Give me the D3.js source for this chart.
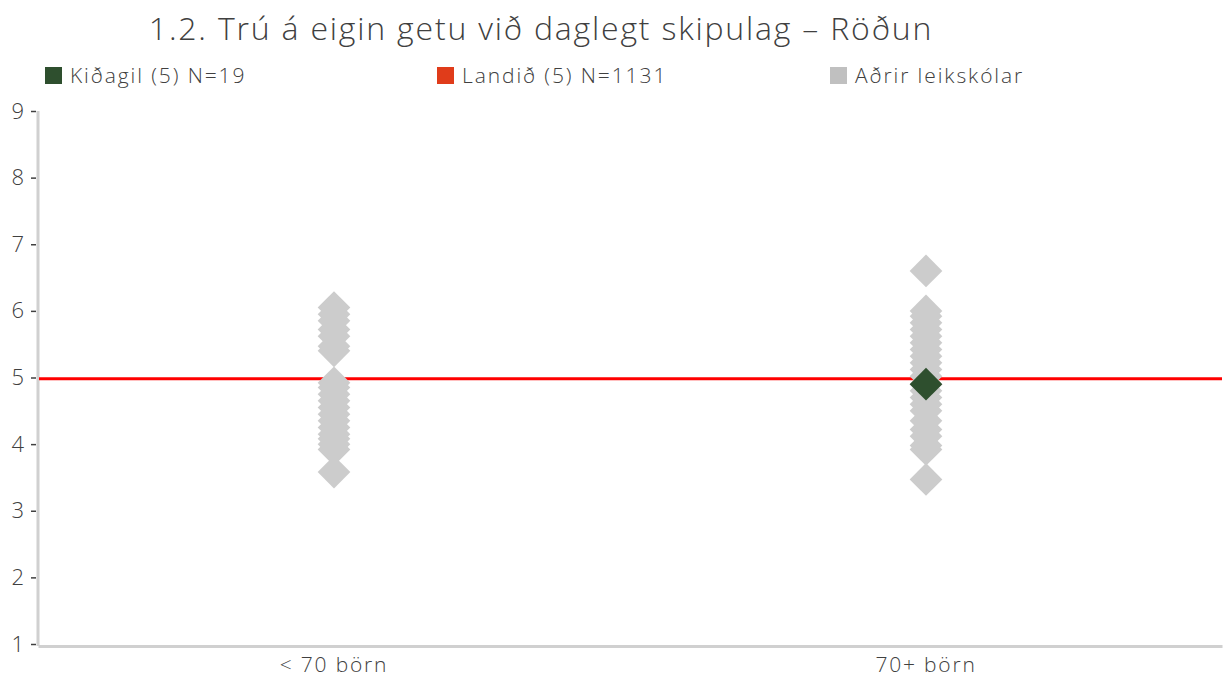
<!DOCTYPE html>
<html>
<head>
<meta charset="utf-8">
<script src="https://cdn.jsdelivr.net/npm/d3@7"></script>
<style>
  html, body { margin: 0; padding: 0; background: #fff; }
  svg { display: block; font-family: "Open Sans", "Noto Sans", sans-serif; font-weight: 300; }
</style>
</head>
<body>
<div id="root"><svg></svg></div>
<script>
const width = 1228, height = 677;

const title = '1.2. Trú á eigin getu við daglegt skipulag – Röðun';
const categories = ['< 70 börn', '70+ börn'];
const yTicks = [1, 2, 3, 4, 5, 6, 7, 8, 9];

// other preschools, per size group
const othersSmall = [6.05, 5.95, 5.85, 5.72, 5.62, 5.47, 5.4,
                     4.92, 4.85, 4.75, 4.65, 4.55, 4.45, 4.35, 4.25, 4.15, 4.08, 4.0, 3.92, 3.58];
const othersLarge = [6.6, 6.0, 5.92, 5.82, 5.72, 5.62, 5.52, 5.42, 5.32, 5.22, 5.12, 5.02,
                     4.9, 4.8, 4.7, 4.6, 4.5, 4.35, 4.22, 4.12, 3.98, 3.92, 3.47];
const schoolCategory = '70+ börn';
const schoolValue = 4.9;
const nationalValue = 4.98;

const legendLabels = ['Kiðagil (5) N=19', 'Landið (5) N=1131', 'Aðrir leikskólar'];
const legendColors = ['#2e4f2e', '#e03c1a', '#c0c0c0'];

const margin = {top: 111, right: 6, bottom: 31, left: 38};
const fontFamily = '"Open Sans", "Noto Sans", sans-serif';

const svg = d3.select('#root').select('svg')
    .attr('width', width)
    .attr('height', height);

const x = d3.scaleBand()
    .domain(categories)
    .range([margin.left, width - margin.right])
    .padding(0);

const y = d3.scaleLinear()
    .domain([1, 9])
    .range([height - margin.bottom - 2, margin.top]);

// title
svg.append('text')
    .attr('x', 541)
    .attr('y', 40)
    .attr('text-anchor', 'middle')
    .attr('font-size', '32px')
    .attr('letter-spacing', '1.8px')
    .attr('fill', '#404040')
    .text(title);

// legend
const legendX = [45, 437, 830];
legendLabels.forEach((label, i) => {
    svg.append('rect')
        .attr('x', legendX[i])
        .attr('y', 67)
        .attr('width', 17)
        .attr('height', 17)
        .attr('fill', legendColors[i]);
    svg.append('text')
        .attr('x', legendX[i] + 25)
        .attr('y', 83)
        .attr('font-size', '21px')
        .attr('letter-spacing', '1.9px')
        .attr('fill', '#404040')
        .text(label);
});

// axes
const yAxis = svg.append('g')
    .attr('transform', `translate(${margin.left - 2},0)`)
    .call(d3.axisLeft(y).tickValues(yTicks).tickSize(5).tickPadding(7));
yAxis.select('.domain').remove();
yAxis.selectAll('line').attr('stroke', '#404040').attr('stroke-width', 1.5);
yAxis.selectAll('text')
    .attr('font-size', '22px')
    .attr('fill', '#404040')
    .attr('font-family', fontFamily)
    .attr('font-weight', 300);

svg.append('line')
    .attr('x1', margin.left).attr('x2', margin.left)
    .attr('y1', margin.top).attr('y2', height - margin.bottom)
    .attr('stroke', '#d0d0d0').attr('stroke-width', 3);

const xAxis = svg.append('g')
    .attr('transform', `translate(0,${height - margin.bottom})`)
    .call(d3.axisBottom(x).tickSize(0).tickPadding(9));
xAxis.select('.domain')
    .attr('stroke', '#d0d0d0')
    .attr('stroke-width', 3);
xAxis.selectAll('text')
    .attr('font-size', '21px')
    .attr('letter-spacing', '1.8px')
    .attr('fill', '#404040')
    .attr('dy', '0.8em')
    .attr('font-family', fontFamily)
    .attr('font-weight', 300);

// national average line
svg.append('line')
    .attr('x1', margin.left + 1)
    .attr('x2', width - margin.right)
    .attr('y1', y(nationalValue))
    .attr('y2', y(nationalValue))
    .attr('stroke', '#ff0000')
    .attr('stroke-width', 3);

// diamonds
const diamond = d3.symbol().type(d3.symbolDiamond2).size(680);
const others = [
    ...othersSmall.map(v => ({cat: categories[0], v})),
    ...othersLarge.map(v => ({cat: categories[1], v}))
];

svg.append('g')
    .selectAll('path')
    .data(others)
    .enter()
    .append('path')
    .attr('d', diamond)
    .attr('transform', d => `translate(${x(d.cat) + x.bandwidth() / 2},${y(d.v)})`)
    .attr('fill', '#cccccc');

svg.append('path')
    .attr('d', diamond)
    .attr('transform', `translate(${x(schoolCategory) + x.bandwidth() / 2},${y(schoolValue)})`)
    .attr('fill', legendColors[0]);
</script>
</body>
</html>
